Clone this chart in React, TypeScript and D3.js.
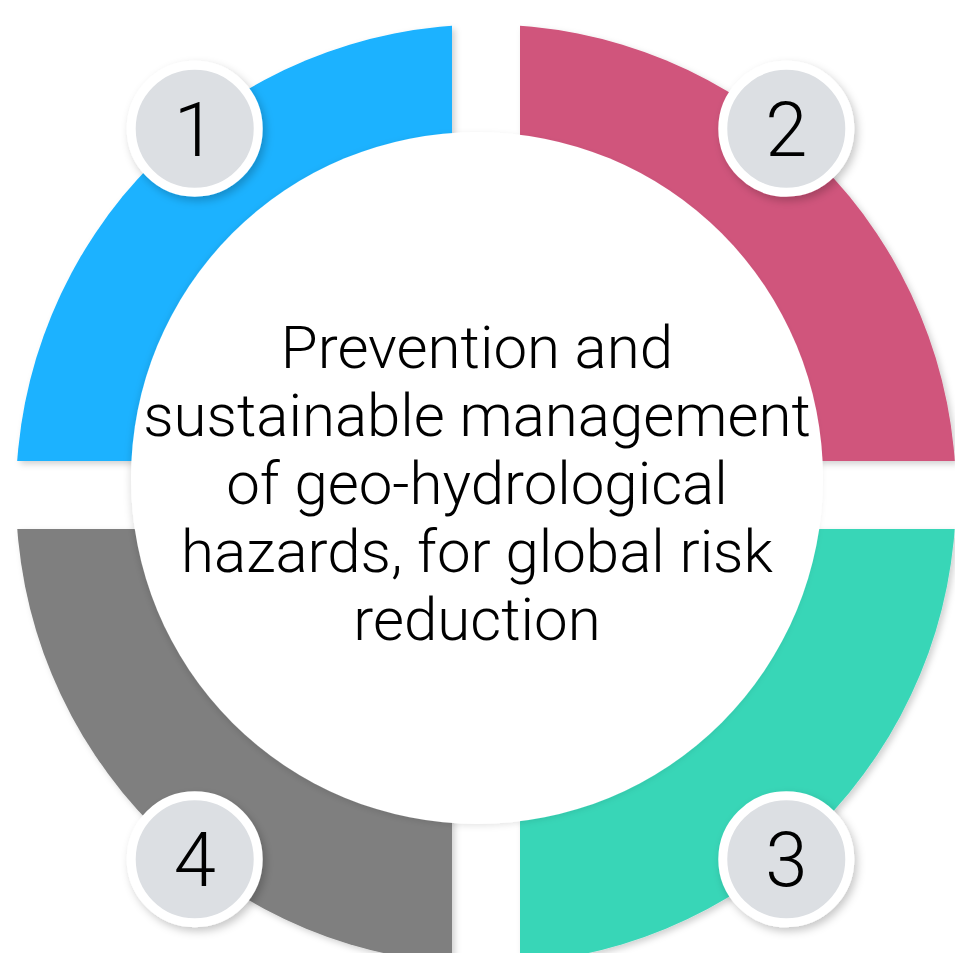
import { useEffect } from "react";
import * as d3 from "d3";

// segments, clockwise from the top-left quadrant
const segmentLabels = ["1", "2", "3", "4"];
const segmentColors = ["#1ab2ff", "#d0547c", "#38d6b7", "#7f7f7f"];
const segmentValues = [1, 1, 1, 1];
// badge angle (deg) measured inside each slice from its start
const badgeOffsets = [51, 39, 51, 39];

const centerLines = [
  "Prevention and",
  "sustainable management",
  "of geo-hydrological",
  "hazards, for global risk",
  "reduction",
];

export default function App() {
  useEffect(() => {
    document.body.style.margin = "0";
  }, []);

  const width = 955;
  const height = 953;
  const cx = 486;
  const cy = 494.5;
  const outerR = 470;
  const gapX = 34;
  const gapTop = 33.5;
  const gapBottom = 34.5;

  // white hub is slightly off-centre in the original
  const hubX = 477;
  const hubY = 478;
  const hubR = 346;

  const pie = d3
    .pie<number>()
    .sort(null)
    .startAngle(-Math.PI / 2)
    .endAngle((3 * Math.PI) / 2);
  const arcs = pie(segmentValues);
  const arc = d3.arc<d3.PieArcDatum<number>>().innerRadius(0).outerRadius(outerR);

  const badgeCx = 490.5;
  const badgeCy = 494;
  const badgeR = 59;
  const badgeRing = 9;
  const badgeDist = 470;

  const lineGap = 68;
  const firstBaseline = 368;

  return (
    <svg width={width} height={height} style={{ display: "block", background: "#fff" }}>
      <defs>
        <filter id="segShadow" x="-10%" y="-10%" width="120%" height="120%">
          <feDropShadow dx="3" dy="3" stdDeviation="3" floodColor="#000" floodOpacity="0.18" />
        </filter>
        <filter id="badgeShadow" x="-30%" y="-30%" width="160%" height="160%">
          <feDropShadow dx="3" dy="4" stdDeviation="4" floodColor="#000" floodOpacity="0.22" />
        </filter>
        <filter id="hubShadow" x="-10%" y="-10%" width="120%" height="120%">
          <feDropShadow dx="-2" dy="2" stdDeviation="3" floodColor="#000" floodOpacity="0.1" />
        </filter>
        {arcs.map((a, i) => {
          const [mx, my] = arc.centroid(a);
          const left = mx < 0;
          const top = my < 0;
          return (
            <clipPath id={`q${i}`} key={i}>
              <rect
                x={left ? -outerR - 10 : gapX}
                y={top ? -outerR - 10 : gapBottom}
                width={outerR + 10 - gapX}
                height={top ? outerR + 10 - gapTop : outerR + 10 - gapBottom}
              />
            </clipPath>
          );
        })}
      </defs>

      <g transform={`translate(${cx},${cy})`}>
        {arcs.map((a, i) => (
          <g key={i} filter="url(#segShadow)">
            <path d={arc(a) ?? ""} fill={segmentColors[i]} clipPath={`url(#q${i})`} />
          </g>
        ))}
      </g>

      <circle cx={hubX} cy={hubY} r={hubR} fill="#fff" filter="url(#hubShadow)" />

      <g transform={`translate(${badgeCx},${badgeCy})`}>
        {arcs.map((a, i) => {
          const ang = a.startAngle + (badgeOffsets[i] * Math.PI) / 180;
          const [bx, by] = d3.pointRadial(ang, badgeDist);
          return (
            <g key={i} transform={`translate(${bx},${by})`}>
              <circle
                r={badgeR + badgeRing / 2}
                fill="#dcdfe3"
                stroke="#fff"
                strokeWidth={badgeRing}
                filter="url(#badgeShadow)"
              />
              <text
                y={27}
                textAnchor="middle"
                fontFamily="Roboto, 'Open Sans', sans-serif"
                fontWeight={300}
                fontSize={76}
                fill="#000"
              >
                {segmentLabels[i]}
              </text>
            </g>
          );
        })}
      </g>

      <g>
        {centerLines.map((t, i) => (
          <text
            key={i}
            x={hubX}
            y={firstBaseline + i * lineGap}
            textAnchor="middle"
            fontFamily="Roboto, 'Open Sans', sans-serif"
            fontWeight={300}
            fontSize={60}
            fill="#000"
          >
            {t}
          </text>
        ))}
      </g>
    </svg>
  );
}
